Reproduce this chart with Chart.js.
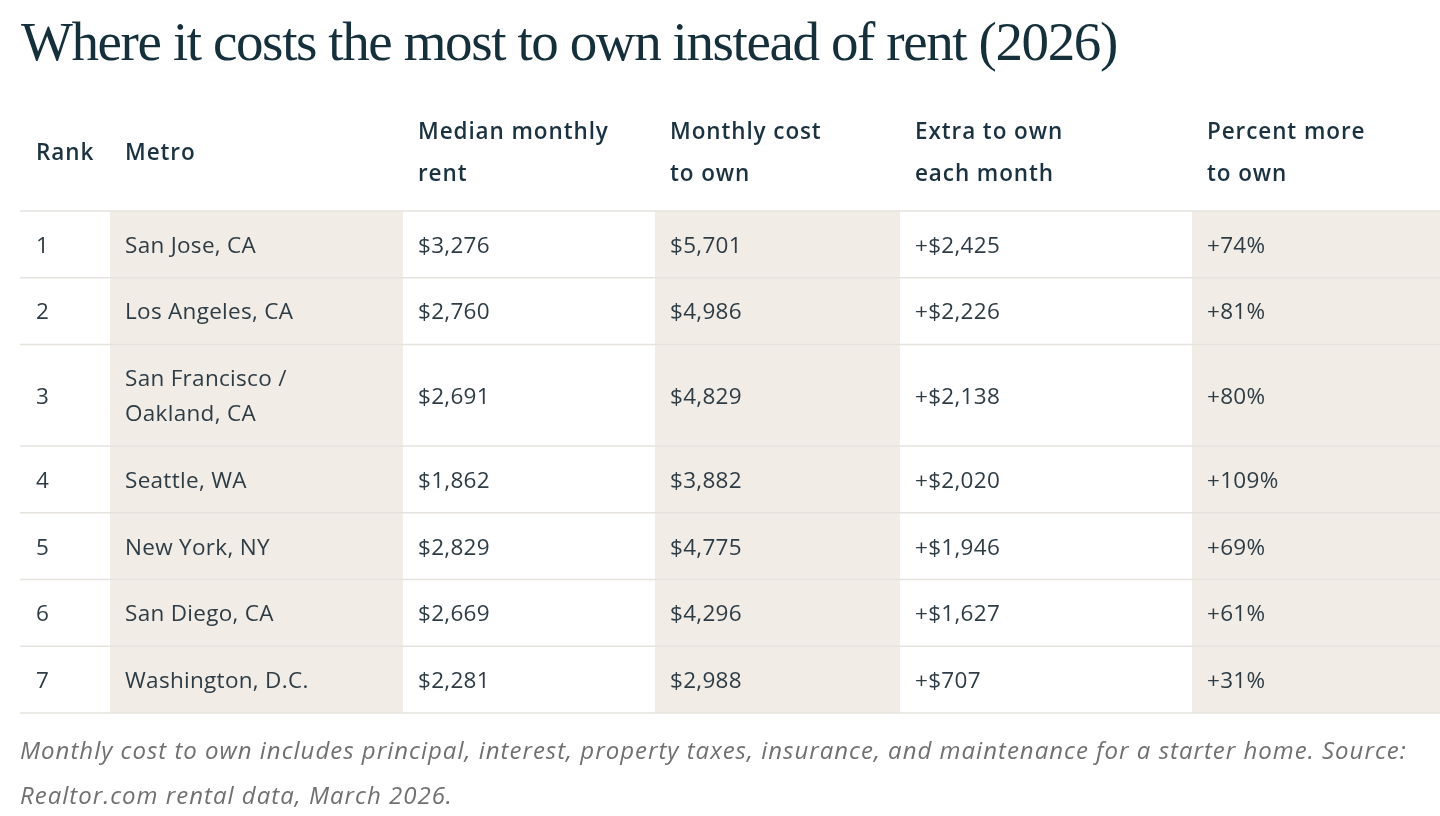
<!DOCTYPE html>
<html>
<head>
<meta charset="utf-8">
<title>Where it costs the most to own instead of rent (2026)</title>
<script src="https://cdn.jsdelivr.net/npm/chart.js@4.4.1/dist/chart.umd.min.js"></script>
<style>
  html, body { margin: 0; padding: 0; background: #fff; width: 1440px; height: 816px; overflow: hidden; }
  #title {
    position: absolute; left: 21px; top: 14px; margin: 0;
    font-family: "Liberation Serif", "DejaVu Serif", serif; font-weight: 400;
    font-size: 55px; line-height: 55px; letter-spacing: -1.4px;
    color: #15303b; white-space: nowrap;
  }
  #tableChart { position: absolute; left: 0; top: 0; }
  #note {
    position: absolute; left: 20px; top: 727px; margin: 0;
    font-family: "Open Sans", Lato, sans-serif; font-style: italic; font-weight: 400;
    font-size: 24px; line-height: 45px; letter-spacing: 1px; color: #707070; white-space: nowrap;
  }
</style>
</head>
<body>
<h1 id="title">Where it costs the most to own instead of rent (2026)</h1>
<canvas id="tableChart" width="1440" height="816"></canvas>
<p id="note">Monthly cost to own includes principal, interest, property taxes, insurance, and maintenance for a starter home. Source:<br>Realtor.com rental data, March 2026.</p>
<script>
// table data
const headers = [
  ['Rank'],
  ['Metro'],
  ['Median monthly', 'rent'],
  ['Monthly cost', 'to own'],
  ['Extra to own', 'each month'],
  ['Percent more', 'to own']
];
const ranks = [1, 2, 3, 4, 5, 6, 7];
const metros = [
  ['San Jose, CA'],
  ['Los Angeles, CA'],
  ['San Francisco /', 'Oakland, CA'],
  ['Seattle, WA'],
  ['New York, NY'],
  ['San Diego, CA'],
  ['Washington, D.C.']
];
const rents = [3276, 2760, 2691, 1862, 2829, 2669, 2281];
const ownCosts = [5701, 4986, 4829, 3882, 4775, 4296, 2988];
const extras = [2425, 2226, 2138, 2020, 1946, 1627, 707];
const percents = [74, 81, 80, 109, 69, 61, 31];

// layout / style (page units)
const colEdges = [20, 110, 403, 655, 900, 1192, 1440];
const shadedCols = [1, 3, 5];
const cellPadX = 15;
const textShift = 2;
const headMid = 152, headLineH = 42;
const bodyTop = 211, rowPad = 31.7, lineH = 35;
const shadeColor = '#f1ece6';
const ruleColor = '#e6e3df';
const headFont = '600 22.5px "Open Sans", Lato, sans-serif';
const bodyFont = '400 22.5px "Open Sans", Lato, sans-serif';
const headSpacing = '0.9px';
const bodySpacing = '0.3px';
const headColor = '#1b3340';
const bodyColor = '#2e3c45';

const money = v => '$' + v.toLocaleString('en-US');
const rows = ranks.map((r, i) => [
  [String(r)],
  metros[i],
  [money(rents[i])],
  [money(ownCosts[i])],
  ['+' + money(extras[i])],
  ['+' + percents[i] + '%']
]);

const tablePlugin = {
  id: 'tableCells',
  afterDraw(chart) {
    const {ctx, scales: {x, y}} = chart;
    const px = v => x.getPixelForValue(v);
    const py = v => y.getPixelForValue(v);
    const textX = c => px(colEdges[c] + cellPadX + (c === 0 ? 1 : 0));

    // row boundaries from line counts
    const bounds = [bodyTop];
    rows.forEach(cells => {
      const lines = Math.max(...cells.map(c => c.length));
      bounds.push(bounds[bounds.length - 1] + rowPad + lines * lineH);
    });
    const bodyBottom = bounds[bounds.length - 1];

    ctx.save();
    // shaded columns
    ctx.fillStyle = shadeColor;
    shadedCols.forEach(c => {
      ctx.fillRect(px(colEdges[c]), py(bodyTop), px(colEdges[c + 1]) - px(colEdges[c]), py(bodyBottom) - py(bodyTop));
    });

    // horizontal rules
    ctx.strokeStyle = ruleColor;
    ctx.lineWidth = 1.5;
    bounds.forEach(b => {
      ctx.beginPath();
      ctx.moveTo(px(colEdges[0]), py(b));
      ctx.lineTo(px(colEdges[colEdges.length - 1]), py(b));
      ctx.stroke();
    });

    // header
    ctx.textBaseline = 'middle';
    ctx.textAlign = 'left';
    ctx.font = headFont;
    ctx.letterSpacing = headSpacing;
    ctx.fillStyle = headColor;
    headers.forEach((lines, c) => {
      const start = headMid + textShift - (lines.length - 1) * headLineH / 2;
      lines.forEach((t, k) => ctx.fillText(t, textX(c), py(start + k * headLineH)));
    });

    // body
    ctx.font = bodyFont;
    ctx.letterSpacing = bodySpacing;
    ctx.fillStyle = bodyColor;
    rows.forEach((cells, r) => {
      const mid = (bounds[r] + bounds[r + 1]) / 2 + textShift;
      cells.forEach((lines, c) => {
        const start = mid - (lines.length - 1) * lineH / 2;
        lines.forEach((t, k) => ctx.fillText(t, textX(c), py(start + k * lineH)));
      });
    });
    ctx.restore();
  }
};

new Chart(document.getElementById('tableChart'), {
  type: 'scatter',
  data: {datasets: []},
  options: {
    responsive: false,
    animation: false,
    devicePixelRatio: 1,
    layout: {padding: 0},
    plugins: {legend: {display: false}, tooltip: {enabled: false}, title: {display: false}},
    scales: {
      x: {type: 'linear', min: 0, max: 1440, display: false},
      y: {type: 'linear', min: 0, max: 816, reverse: true, display: false}
    }
  },
  plugins: [tablePlugin]
});
</script>
</body>
</html>
